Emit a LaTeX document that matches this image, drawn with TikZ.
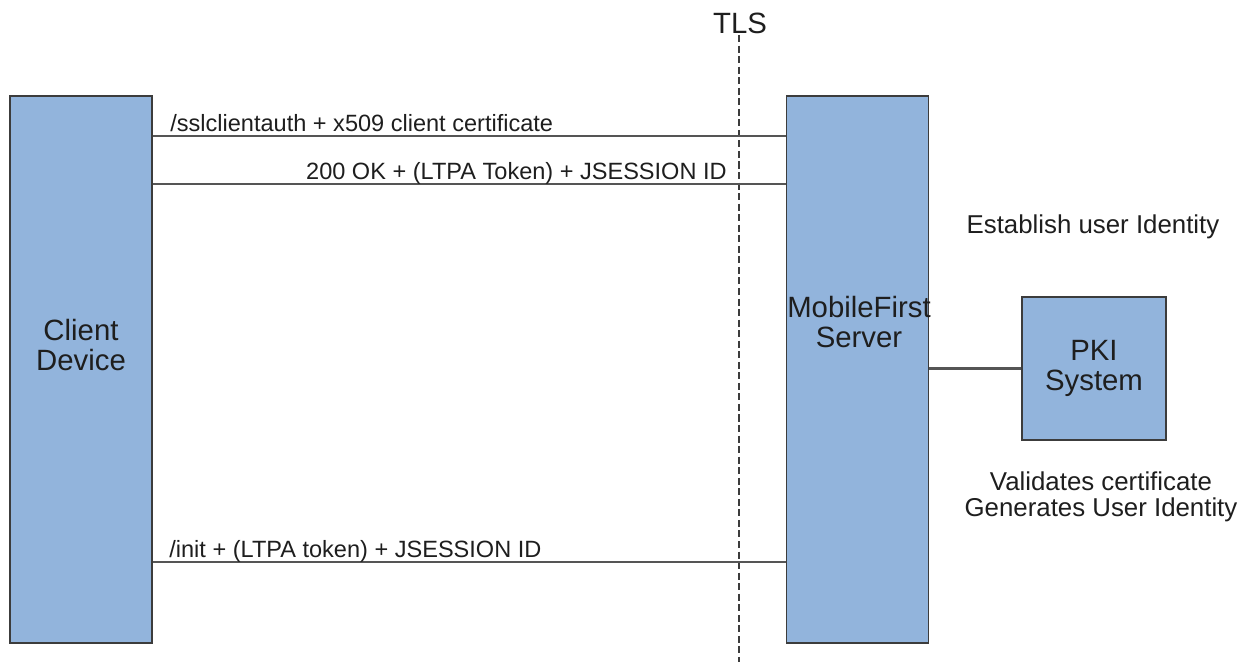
\documentclass[tikz,border=0pt]{standalone}
\usepackage{fontspec}
\setmainfont{Liberation Sans}
\usetikzlibrary{positioning}

\definecolor{boxblue}{RGB}{146,180,220}
\definecolor{edgegray}{RGB}{60,60,60}
\definecolor{wiregray}{RGB}{85,85,85}
\definecolor{inkgray}{RGB}{30,30,30}

\begin{document}
\begin{tikzpicture}[x=0.02cm,y=-0.02cm,
	actor/.style={draw=edgegray,line width=0.9pt,fill=boxblue,minimum width=2.84cm,minimum height=10.94cm,inner sep=0pt},
	bigtext/.style={text=inkgray,align=center,font=\fontsize{16.7}{17}\selectfont},
	msgtext/.style={text=inkgray,inner sep=0pt,font=\fontsize{13.4}{16}\selectfont},
	note/.style={text=inkgray,align=center,font=\fontsize{14.7}{14.7}\selectfont},
	wire/.style={draw=wiregray,line width=1.1pt}]
	\useasboundingbox (0,0) rectangle (1249,662);
	% the two ends of the conversation and the PKI side box
	\node[actor] (client) at (81,369.5) {};
	\node[actor] (server) at (857.5,369.5) {};
	\node[actor,minimum width=2.88cm,minimum height=2.86cm,bigtext] (pki) at (1094,368.5) {PKI\\System};
	\node[bigtext] (clientname) at (81,345) {Client\\Device};
	\node[bigtext] (servername) at (859,322) {MobileFirst\\Server};
	% TLS boundary
	\node[bigtext,inner sep=0pt] (tls) at (740,23) {TLS};
	\coordinate (tlsend) at (739,662);
	\draw[edgegray,line width=0.6pt,dash pattern=on 4pt off 2pt] (739,35) -- (tlsend);
	% messages
	\draw[wire] ([yshift=-0.82cm]client.north east) -- ([yshift=-0.82cm]server.north west);
	\draw[wire] ([yshift=-1.78cm]client.north east) -- ([yshift=-1.78cm]server.north west);
	\draw[wire] ([yshift=-9.34cm]client.north east) -- ([yshift=-9.34cm]server.north west);
	\draw[wire,line width=1.5pt] (server.east |- pki.west) -- (pki.west);
	\node[msgtext,anchor=base west] (msgcert) at (170,132) {/sslclientauth + x509 client certificate};
	\node[msgtext,anchor=base east] (msgok) at (727,180) {200 OK + (LTPA Token) + JSESSION ID};
	\node[msgtext,anchor=base west] (msginit) at (169,558) {/init + (LTPA token) + JSESSION ID};
	% notes round the PKI box
	\node[note] (establish) at (1093,227) {Establish user Identity};
	\node[note] (validates) at (1101,497) {Validates certificate\\Generates User Identity};
\end{tikzpicture}
\end{document}
